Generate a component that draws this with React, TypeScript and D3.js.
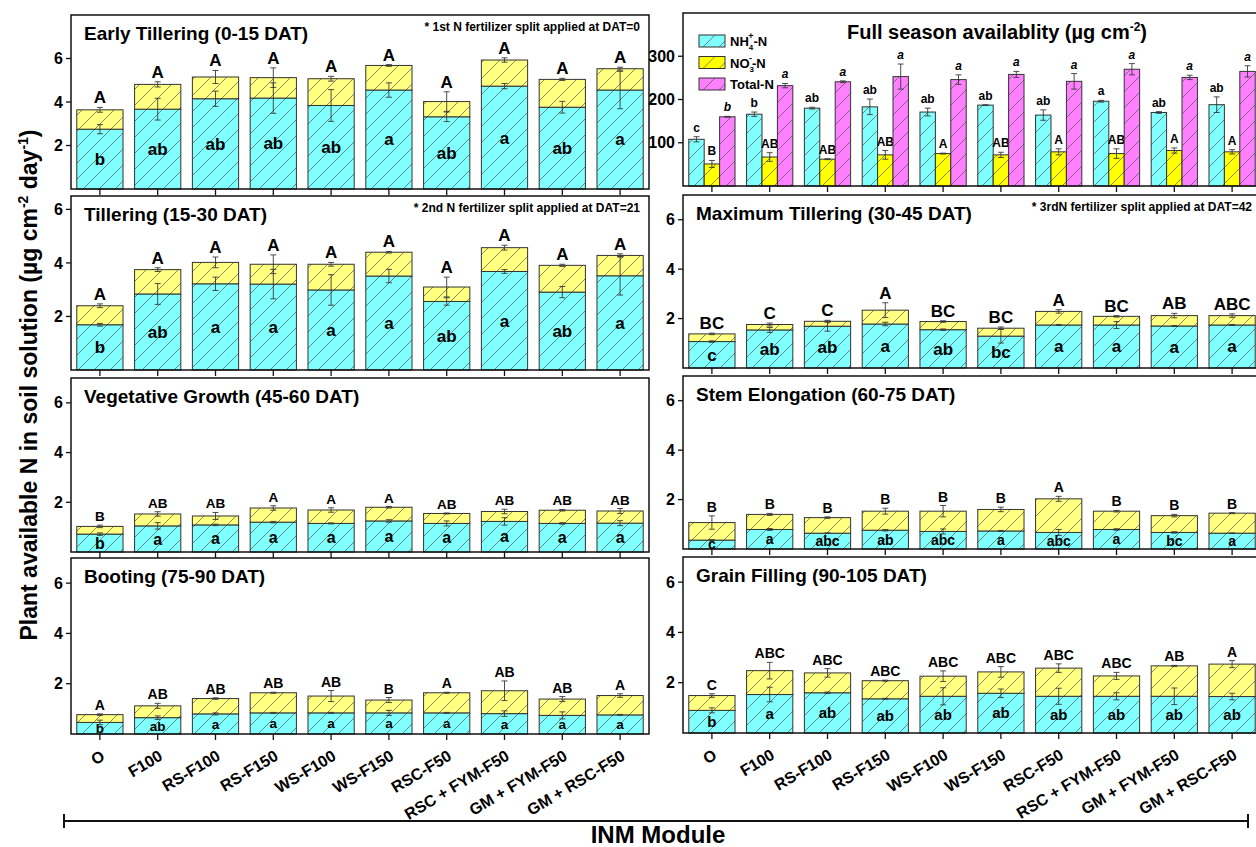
import React from "react";
import * as d3 from "d3";

const FONT = "'Liberation Sans', Arial, Helvetica, sans-serif";
const W = 1256;
const H = 847;

const treatments = [
  "O",
  "F100",
  "RS-F100",
  "RS-F150",
  "WS-F100",
  "WS-F150",
  "RSC-F50",
  "RSC + FYM-F50",
  "GM + FYM-F50",
  "GM + RSC-F50",
];

// Early Tillering (0-15 DAT)
const etNH4 = [2.75, 3.67, 4.15, 4.18, 3.84, 4.55, 3.32, 4.73, 3.76, 4.55];
const etNO3 = [0.89, 1.14, 1.0, 0.94, 1.23, 1.13, 0.7, 1.2, 1.28, 0.98];
const etNH4Err = [0.21, 0.5, 0.35, 0.7, 0.73, 0.33, 0.22, 0.12, 0.27, 0.86];
const etTotalErr = [0.11, 0.12, 0.3, 0.45, 0.11, 0.04, 0.45, 0.1, 0.05, 0.07];
const etUpper = ["A", "A", "A", "A", "A", "A", "A", "A", "A", "A"];
const etLower = ["b", "ab", "ab", "ab", "ab", "a", "ab", "a", "ab", "a"];

// Tillering (15-30 DAT)
const tiNH4 = [1.69, 2.84, 3.22, 3.21, 2.99, 3.51, 2.56, 3.68, 2.91, 3.52];
const tiNO3 = [0.71, 0.91, 0.8, 0.74, 0.96, 0.89, 0.54, 0.89, 1.0, 0.76];
const tiNH4Err = [0.05, 0.39, 0.25, 0.55, 0.57, 0.25, 0.14, 0.07, 0.21, 0.72];
const tiTotalErr = [0.07, 0.07, 0.2, 0.35, 0.07, 0.03, 0.37, 0.09, 0.04, 0.06];
const tiUpper = ["A", "A", "A", "A", "A", "A", "A", "A", "A", "A"];
const tiLower = ["b", "ab", "a", "a", "a", "a", "ab", "a", "ab", "a"];

// Vegetative Growth (45-60 DAT)
const vgNH4 = [0.72, 1.05, 1.09, 1.2, 1.15, 1.25, 1.15, 1.23, 1.15, 1.16];
const vgNO3 = [0.31, 0.48, 0.36, 0.57, 0.54, 0.55, 0.4, 0.4, 0.53, 0.49];
const vgNH4Err = [0.05, 0.13, 0.03, 0.03, 0.02, 0.05, 0.1, 0.15, 0.03, 0.1];
const vgTotalErr = [0.05, 0.09, 0.14, 0.09, 0.09, 0.03, 0.02, 0.09, 0.03, 0.1];
const vgUpper = ["B", "AB", "AB", "A", "A", "A", "AB", "AB", "AB", "AB"];
const vgLower = ["b", "a", "a", "a", "a", "a", "a", "a", "a", "a"];

// Booting (75-90 DAT)
const boNH4 = [0.46, 0.65, 0.8, 0.84, 0.84, 0.84, 0.84, 0.81, 0.74, 0.76];
const boNO3 = [0.31, 0.47, 0.61, 0.8, 0.67, 0.51, 0.8, 0.91, 0.65, 0.77];
const boNH4Err = [0.09, 0.07, 0.04, 0.02, 0.02, 0.1, 0.02, 0.11, 0.14, 0.02];
const boTotalErr = [0.03, 0.1, 0.03, 0.02, 0.22, 0.1, 0.02, 0.39, 0.1, 0.07];
const boUpper = ["A", "AB", "AB", "AB", "AB", "B", "A", "AB", "AB", "A"];
const boLower = ["b", "ab", "a", "a", "a", "a", "a", "a", "a", "a"];

// Maximum Tillering (30-45 DAT)
const mtNH4 = [1.07, 1.54, 1.69, 1.78, 1.55, 1.29, 1.74, 1.74, 1.7, 1.74];
const mtNO3 = [0.31, 0.22, 0.2, 0.56, 0.33, 0.32, 0.55, 0.35, 0.42, 0.38];
const mtNH4Err = [0.03, 0.1, 0.2, 0.07, 0.03, 0.28, 0.02, 0.14, 0.02, 0.02];
const mtTotalErr = [0.03, 0.06, 0.04, 0.3, 0.03, 0.05, 0.07, 0.03, 0.09, 0.07];
const mtUpper = ["BC", "C", "C", "A", "BC", "BC", "A", "BC", "AB", "ABC"];
const mtLower = ["c", "ab", "ab", "a", "ab", "bc", "a", "a", "a", "a"];

// Stem Elongation (60-75 DAT)
const seNH4 = [0.36, 0.79, 0.64, 0.76, 0.71, 0.73, 0.67, 0.79, 0.67, 0.64];
const seNO3 = [0.71, 0.61, 0.63, 0.77, 0.82, 0.87, 1.36, 0.74, 0.68, 0.81];
const seNH4Err = [0.02, 0.04, 0.01, 0.03, 0.1, 0.02, 0.12, 0.03, 0.03, 0.01];
const seTotalErr = [0.27, 0.04, 0.03, 0.12, 0.23, 0.09, 0.1, 0.03, 0.05, 0.02];
const seUpper = ["B", "B", "B", "B", "B", "B", "A", "B", "B", "B"];
const seLower = ["c", "a", "abc", "ab", "abc", "a", "abc", "a", "bc", "a"];

// Grain Filling (90-105 DAT)
const gfNH4 = [0.9, 1.53, 1.6, 1.36, 1.46, 1.58, 1.46, 1.46, 1.46, 1.45];
const gfNO3 = [0.59, 0.95, 0.79, 0.72, 0.8, 0.85, 1.12, 0.81, 1.21, 1.29];
const gfNH4Err = [0.1, 0.29, 0.03, 0.02, 0.34, 0.17, 0.32, 0.14, 0.33, 0.13];
const gfTotalErr = [0.07, 0.33, 0.17, 0.02, 0.21, 0.21, 0.17, 0.14, 0.02, 0.14];
const gfUpper = ["C", "ABC", "ABC", "ABC", "ABC", "ABC", "ABC", "ABC", "AB", "A"];
const gfLower = ["b", "a", "ab", "ab", "ab", "ab", "ab", "ab", "ab", "ab"];

// Full season availability (µg cm-2)
const fsNH4 = [108, 166, 180, 183, 171, 187, 164, 196, 170, 188];
const fsNO3 = [51, 67, 62, 72, 75, 72, 79, 75, 82, 79];
const fsTotal = [160, 232, 241, 253, 246, 258, 242, 270, 251, 265];
const fsNH4Err = [6, 5, 2, 18, 9, 1, 12, 2, 2, 18];
const fsNO3Err = [8, 10, 1, 10, 1, 6, 7, 11, 6, 5];
const fsTotalErr = [1, 5, 2, 29, 11, 7, 18, 13, 5, 13];
const fsNH4Letters = ["c", "b", "ab", "ab", "ab", "ab", "ab", "a", "ab", "ab"];
const fsNO3Letters = ["B", "AB", "AB", "AB", "A", "AB", "A", "AB", "A", "A"];
const fsTotalLetters = ["b", "a", "a", "a", "a", "a", "a", "a", "a", "a"];

const CYAN = "#80ffff";
const YELLOW = "#ffff80";
const YELLOW_FS = "#ffff00";
const MAGENTA = "#ff80ff";

const leftCol = { x0: 71, x1: 649 };
const rightCol = { x0: 683, x1: 1261 };

const stages = [
  { title: "Early Tillering (0-15 DAT)", note: "* 1st N fertilizer split applied at DAT=0", col: leftCol, top: 15, bottom: 189, yMax: 8, nh4: etNH4, no3: etNO3, nh4Err: etNH4Err, totErr: etTotalErr, upper: etUpper, lower: etLower, upSize: 17, lowSize: 17, xLabels: false },
  { title: "Tillering (15-30 DAT)", note: "* 2nd N fertilizer split applied at DAT=21", col: leftCol, top: 196, bottom: 370, yMax: 6.5, nh4: tiNH4, no3: tiNO3, nh4Err: tiNH4Err, totErr: tiTotalErr, upper: tiUpper, lower: tiLower, upSize: 17, lowSize: 17, xLabels: false },
  { title: "Vegetative Growth (45-60 DAT)", note: "", col: leftCol, top: 378, bottom: 552, yMax: 7, nh4: vgNH4, no3: vgNO3, nh4Err: vgNH4Err, totErr: vgTotalErr, upper: vgUpper, lower: vgLower, upSize: 13.5, lowSize: 16, xLabels: false },
  { title: "Booting (75-90 DAT)", note: "", col: leftCol, top: 558, bottom: 734, yMax: 7, nh4: boNH4, no3: boNO3, nh4Err: boNH4Err, totErr: boTotalErr, upper: boUpper, lower: boLower, upSize: 14, lowSize: 13.5, xLabels: true },
  { title: "Maximum Tillering (30-45 DAT)", note: "* 3rdN fertilizer split applied at DAT=42", col: rightCol, top: 195, bottom: 368, yMax: 7, nh4: mtNH4, no3: mtNO3, nh4Err: mtNH4Err, totErr: mtTotalErr, upper: mtUpper, lower: mtLower, upSize: 17, lowSize: 17, xLabels: false },
  { title: "Stem Elongation (60-75 DAT)", note: "", col: rightCol, top: 376, bottom: 549, yMax: 7, nh4: seNH4, no3: seNO3, nh4Err: seNH4Err, totErr: seTotalErr, upper: seUpper, lower: seLower, upSize: 14, lowSize: 14, xLabels: false },
  { title: "Grain Filling (90-105 DAT)", note: "", col: rightCol, top: 557, bottom: 733, yMax: 7, nh4: gfNH4, no3: gfNO3, nh4Err: gfNH4Err, totErr: gfTotalErr, upper: gfUpper, lower: gfLower, upSize: 14, lowSize: 15, xLabels: true },
];

function Hatch({ id, fill }: { id: string; fill: string }) {
  return (
    <pattern id={id} patternUnits="userSpaceOnUse" width={16} height={16}>
      <rect width={16} height={16} fill={fill} />
      <path d="M0,16 L16,0 M-4,4 L4,-4 M12,20 L20,12" stroke="#555" strokeWidth={0.7} />
    </pattern>
  );
}

function ErrBar({ cx, y0, y1 }: { cx: number; y0: number; y1: number }) {
  return (
    <g stroke="#3a3a3a" strokeWidth={0.9}>
      <line x1={cx} x2={cx} y1={y0} y2={y1} />
      <line x1={cx - 3} x2={cx + 3} y1={y0} y2={y0} />
      <line x1={cx - 3} x2={cx + 3} y1={y1} y2={y1} />
    </g>
  );
}

function makeX(col: { x0: number; x1: number }) {
  return d3
    .scaleBand<string>()
    .domain(treatments)
    .range([col.x0, col.x1])
    .paddingInner(0.2)
    .paddingOuter(0.1);
}

function XLabels({ x, bottom }: { x: d3.ScaleBand<string>; bottom: number }) {
  return (
    <g fontSize={16} fontWeight="bold">
      {treatments.map((t) => {
        const cx = x(t)! + x.bandwidth() / 2;
        return (
          <text key={t} textAnchor="end" transform={`translate(${cx + 6},${bottom + 25}) rotate(-31)`}>
            {t}
          </text>
        );
      })}
    </g>
  );
}

function StagePanel({ p }: { p: any }) {
  const { x0, x1 } = p.col;
  const x = makeX(p.col);
  const y = d3.scaleLinear().domain([0, p.yMax]).range([p.bottom, p.top]);
  const rows = treatments.map((t, i) => ({ t, nh4: p.nh4[i], no3: p.no3[i] }));
  const series = d3.stack<any>().keys(["nh4", "no3"])(rows);
  const bw = x.bandwidth();
  return (
    <g>
      {series.map((s, si) =>
        s.map((d, i) => (
          <rect
            key={`${si}-${i}`}
            x={x(treatments[i])}
            y={y(d[1])}
            width={bw}
            height={y(d[0]) - y(d[1])}
            fill={si === 0 ? "url(#hc)" : "url(#hy)"}
            stroke="#333"
            strokeWidth={1}
          />
        ))
      )}
      {treatments.map((t, i) => {
        const cx = x(t)! + bw / 2;
        const nh4Top = series[0][i][1];
        const tot = series[1][i][1];
        return (
          <g key={t}>
            <ErrBar cx={cx} y0={y(nh4Top - p.nh4Err[i])} y1={y(nh4Top + p.nh4Err[i])} />
            <ErrBar cx={cx} y0={y(tot - p.totErr[i])} y1={y(tot + p.totErr[i])} />
            <text x={cx} y={y(tot + p.totErr[i]) - 4} textAnchor="middle" fontSize={p.upSize} fontWeight="bold">
              {p.upper[i]}
            </text>
            <text x={cx} y={(y(0) + y(nh4Top)) / 2} dy="0.35em" textAnchor="middle" fontSize={p.lowSize} fontWeight="bold">
              {p.lower[i]}
            </text>
          </g>
        );
      })}
      <rect x={x0} y={p.top} width={x1 - x0} height={p.bottom - p.top} fill="none" stroke="#111" strokeWidth={1.5} />
      {[2, 4, 6].map((v) => (
        <g key={v}>
          <line x1={x0 - 5} x2={x0} y1={y(v)} y2={y(v)} stroke="#111" strokeWidth={1.3} />
          <text x={x0 - 8} y={y(v)} dy="0.35em" textAnchor="end" fontSize={16} fontWeight="bold">
            {v}
          </text>
        </g>
      ))}
      {treatments.map((t) => {
        const cx = x(t)! + bw / 2;
        return <line key={t} x1={cx} x2={cx} y1={p.bottom} y2={p.bottom + 6} stroke="#111" strokeWidth={1.3} />;
      })}
      <text x={x0 + 13} y={p.top + 25} fontSize={19} fontWeight="bold">
        {p.title}
      </text>
      {p.note && (
        <text x={x1 - 9} y={p.top + 16} textAnchor="end" fontSize={12} fontWeight="bold">
          {p.note}
        </text>
      )}
      {p.xLabels && <XLabels x={x} bottom={p.bottom} />}
    </g>
  );
}

function FullPanel() {
  const top = 13;
  const bottom = 186;
  const { x0, x1 } = rightCol;
  const x = makeX(rightCol);
  const sub = d3.scaleBand<string>().domain(["nh4", "no3", "total"]).range([0, x.bandwidth()]);
  const y = d3.scaleLinear().domain([0, 400]).range([bottom, top]);
  const groups = [
    { key: "nh4", vals: fsNH4, errs: fsNH4Err, letters: fsNH4Letters, pat: "url(#hc)", italic: false },
    { key: "no3", vals: fsNO3, errs: fsNO3Err, letters: fsNO3Letters, pat: "url(#hy2)", italic: false },
    { key: "total", vals: fsTotal, errs: fsTotalErr, letters: fsTotalLetters, pat: "url(#hm)", italic: true },
  ];
  const legend = [
    { pat: "url(#hc)", label: "NH", sub: "4", sup: "+" },
    { pat: "url(#hy2)", label: "NO", sub: "3", sup: "-" },
    { pat: "url(#hm)", label: "Total-N", sub: "", sup: "" },
  ];
  return (
    <g>
      {groups.map((g) =>
        treatments.map((t, i) => {
          const bx = x(t)! + sub(g.key)!;
          const cx = bx + sub.bandwidth() / 2;
          return (
            <g key={`${g.key}-${t}`}>
              <rect x={bx} y={y(g.vals[i])} width={sub.bandwidth()} height={y(0) - y(g.vals[i])} fill={g.pat} stroke="#333" strokeWidth={1} />
              <ErrBar cx={cx} y0={y(g.vals[i] - g.errs[i])} y1={y(g.vals[i] + g.errs[i])} />
              <text
                x={cx}
                y={y(g.vals[i] + g.errs[i]) - 5}
                textAnchor="middle"
                fontSize={12}
                fontWeight="bold"
                fontStyle={g.italic ? "italic" : "normal"}
              >
                {g.letters[i]}
              </text>
            </g>
          );
        })
      )}
      <rect x={x0} y={top} width={x1 - x0} height={bottom - top} fill="none" stroke="#111" strokeWidth={1.5} />
      {[100, 200, 300].map((v) => (
        <g key={v}>
          <line x1={x0 - 5} x2={x0} y1={y(v)} y2={y(v)} stroke="#111" strokeWidth={1.3} />
          <text x={x0 - 8} y={y(v)} dy="0.35em" textAnchor="end" fontSize={16} fontWeight="bold">
            {v}
          </text>
        </g>
      ))}
      {treatments.map((t) => {
        const cx = x(t)! + x.bandwidth() / 2;
        return <line key={t} x1={cx} x2={cx} y1={bottom} y2={bottom + 6} stroke="#111" strokeWidth={1.3} />;
      })}
      <text x={997} y={39} textAnchor="middle" fontSize={20} fontWeight="bold">
        Full season availablity (µg cm<tspan dy={-8} fontSize={12}>-2</tspan>
        <tspan dy={8}>)</tspan>
      </text>
      {legend.map((l, i) => (
        <g key={l.label} transform={`translate(699,${35 + i * 21.5})`}>
          <rect width={26} height={12} fill={l.pat} stroke="#333" strokeWidth={1} />
          <text x={31} y={11} fontSize={13} fontWeight="bold">
            {l.label}
            {l.sub && (
              <>
                <tspan dy={4} fontSize={8}>{l.sub}</tspan>
                <tspan dx={-5} dy={-11} fontSize={9}>{l.sup}</tspan>
                <tspan dy={7}>-N</tspan>
              </>
            )}
          </text>
        </g>
      ))}
    </g>
  );
}

export default function App() {
  return (
    <svg
      width={W}
      height={H}
      viewBox={`0 0 ${W} ${H}`}
      style={{ position: "absolute", left: 0, top: 0, background: "#fff" }}
      fontFamily={FONT}
    >
      <defs>
        <Hatch id="hc" fill={CYAN} />
        <Hatch id="hy" fill={YELLOW} />
        <Hatch id="hy2" fill={YELLOW_FS} />
        <Hatch id="hm" fill={MAGENTA} />
      </defs>
      <rect width={W} height={H} fill="#fff" />
      {stages.map((p) => (
        <StagePanel key={p.title} p={p} />
      ))}
      <FullPanel />
      <text transform="translate(37,385) rotate(-90)" textAnchor="middle" fontSize={23} fontWeight="bold">
        Plant available N in soil solution (µg cm<tspan dy={-9} fontSize={14}>-2</tspan>
        <tspan dy={9}> day</tspan>
        <tspan dy={-9} fontSize={14}>-1</tspan>
        <tspan dy={9}>)</tspan>
      </text>
      <path d="M64,821 H1248 M64,814 V828 M1248,814 V828" stroke="#111" strokeWidth={2} fill="none" />
      <text x={658} y={843} textAnchor="middle" fontSize={24} fontWeight="bold">
        INM Module
      </text>
    </svg>
  );
}
